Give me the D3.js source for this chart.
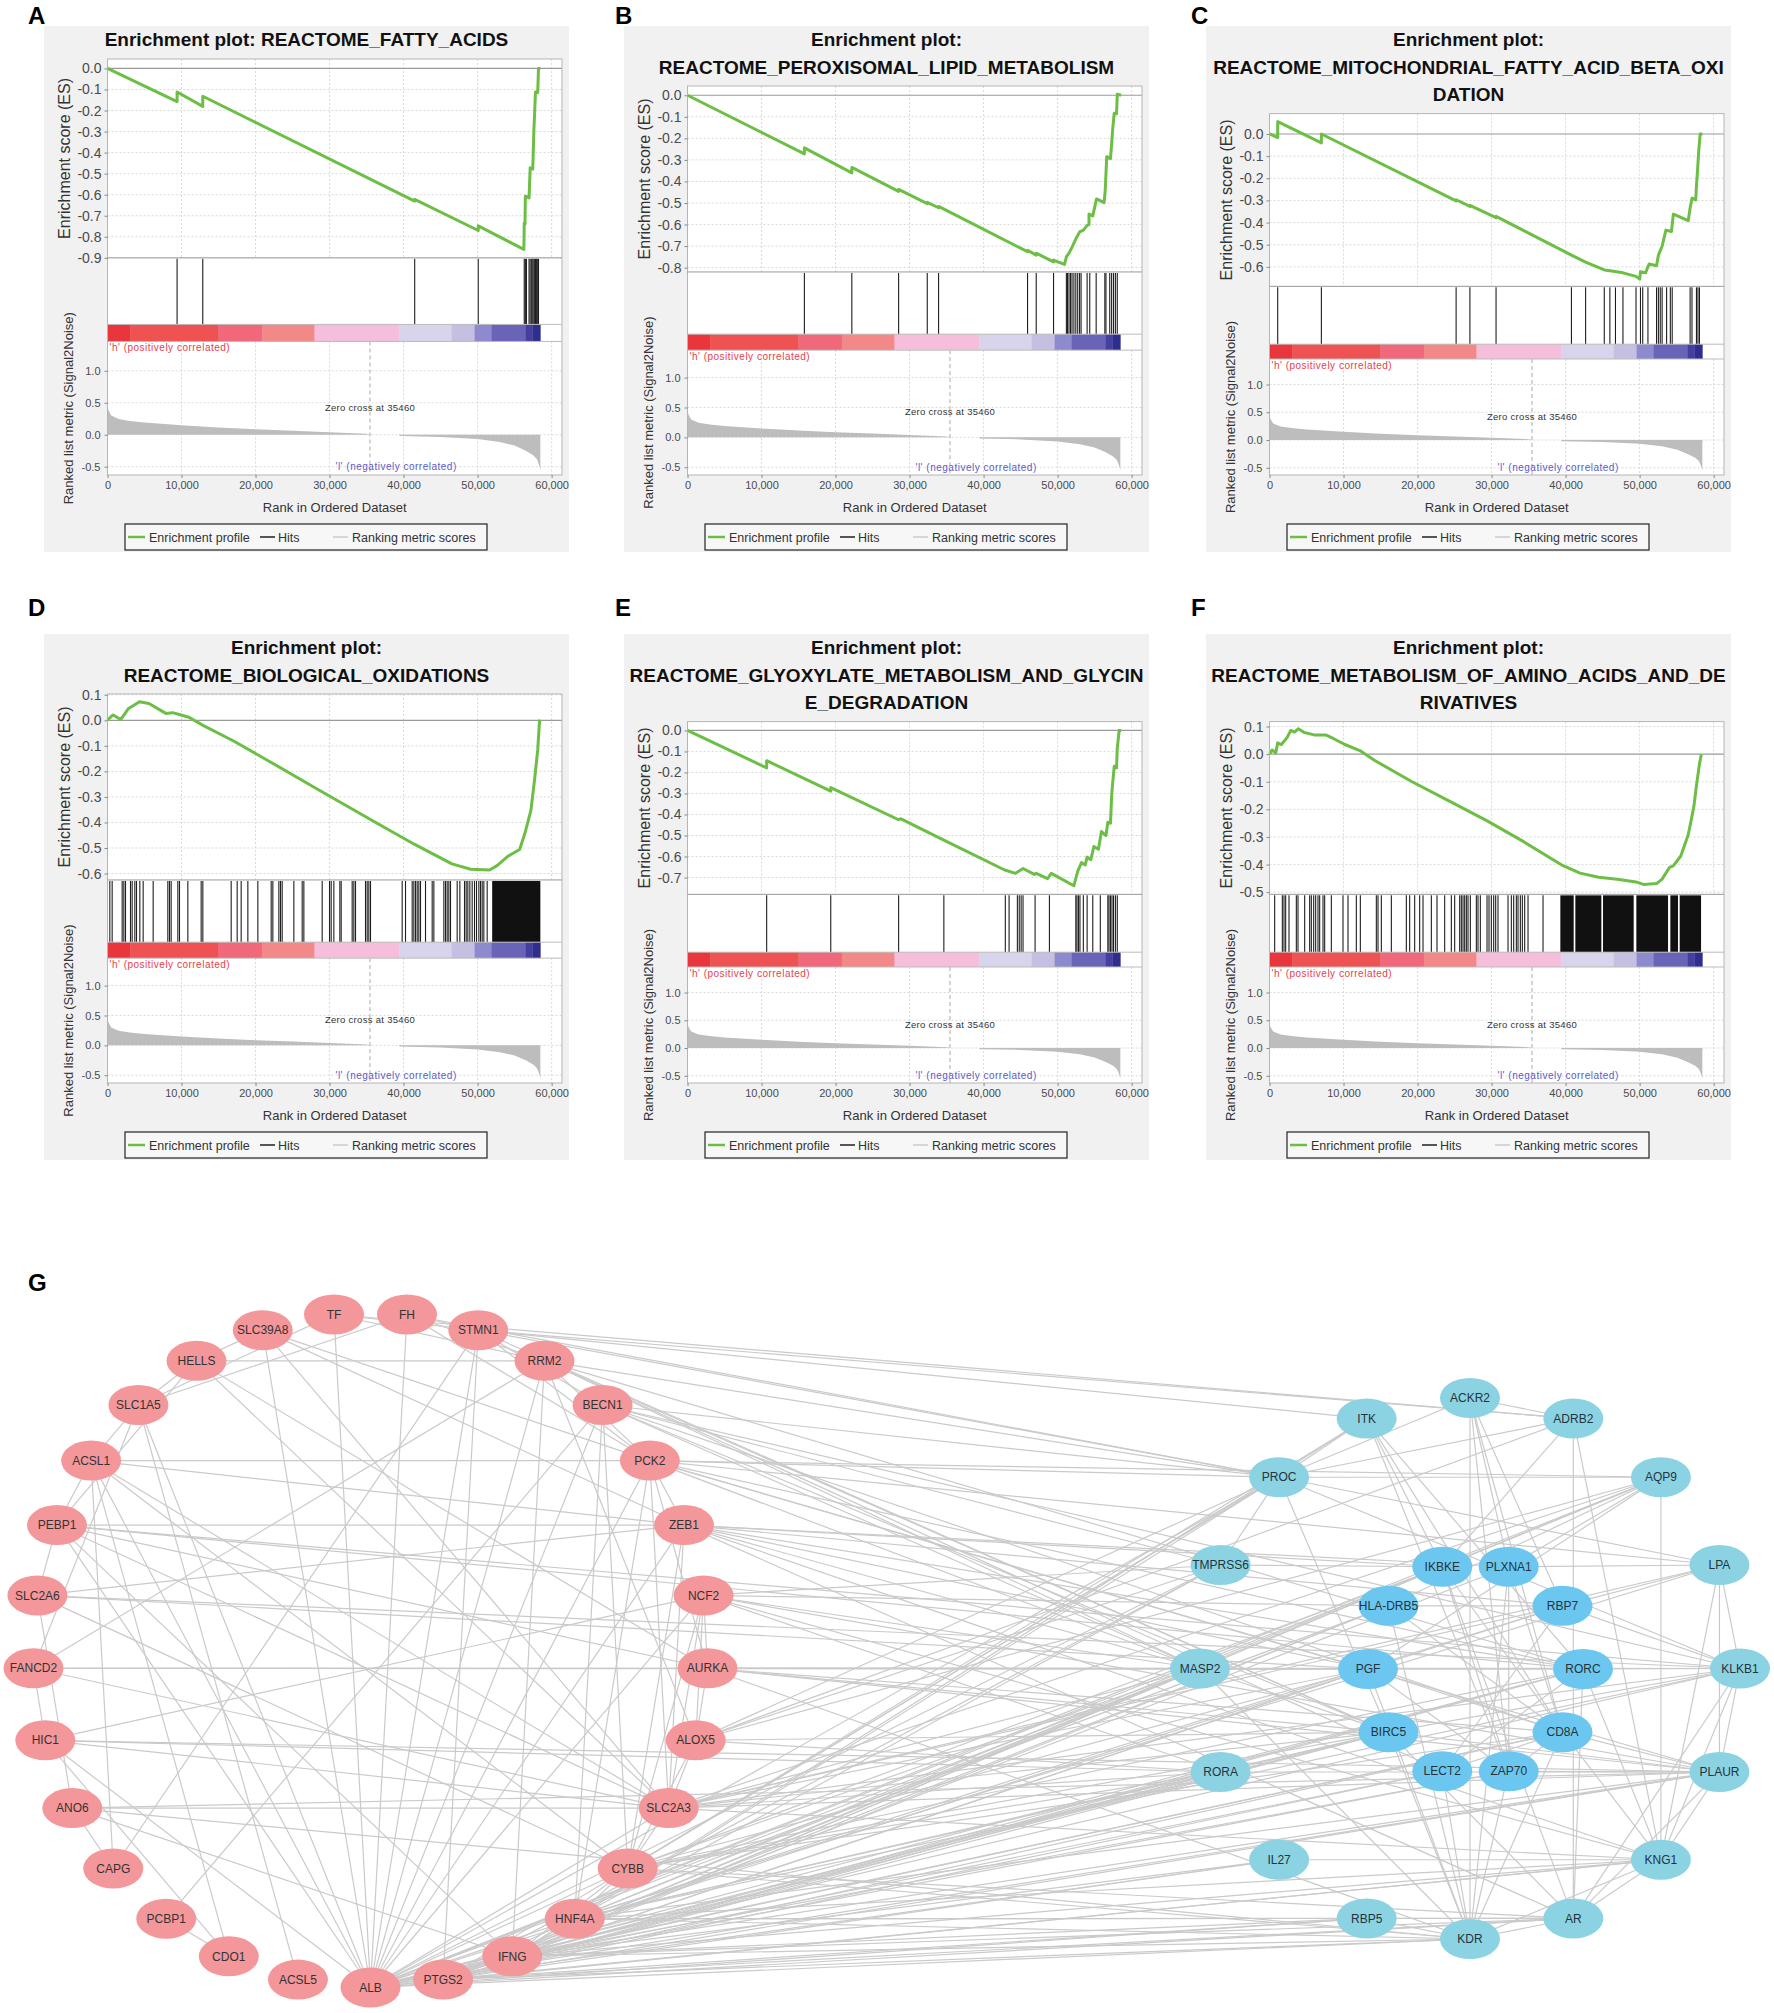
<!DOCTYPE html>
<html>
<head>
<meta charset="utf-8">
<script src="https://cdn.jsdelivr.net/npm/d3@7"></script>
<style>
  body { margin: 0; background: #fff; }
  svg { display: block; }
  text { font-family: "Liberation Sans", Arial, sans-serif; }
</style>
</head>
<body>
<svg id="fig" width="1774" height="2013"></svg>
<script>
// ---------- shared GSEA data ----------
const rankTicks = [0, 10000, 20000, 30000, 40000, 50000, 60000]
const metricTicks = [1.0, 0.5, 0.0, -0.5]
const zeroCross = 35460
// ranked list metric (Signal2Noise), [rank, value]
const metricPoints = [[0,0.56],[100,0.39],[500,0.30],[1500,0.245],[3000,0.216],[5000,0.19],[10000,0.148],
  [15000,0.114],[20000,0.085],[25000,0.063],[30000,0.04],[35000,0.015],[35460,0],[39400,0],[39420,-0.02],
  [45000,-0.034],[50000,-0.068],[53000,-0.114],[55000,-0.17],[56500,-0.25],[57500,-0.32],[58000,-0.38],
  [58300,-0.47],[58475,-0.55]]
const colorBarRank = [0, 3050, 15000, 20850, 27970, 39400, 46500, 49580, 51860, 56440, 57400, 58475]
const colorBarFill = ['#e8363c','#ee5252','#f0687a','#f28888','#f5bfdc','#d8d4ec','#c5bfe2','#8e8ace','#6a64b8','#45409f','#2e2e8e']

// ---------- panel A ----------
const titleA = ['Enrichment plot: REACTOME_FATTY_ACIDS']
const esA = [[0,0],[9400,-0.158],[9400,-0.112],[12870,-0.18],[12870,-0.132],[41500,-0.63],[41500,-0.622],
  [50085,-0.77],[50085,-0.748],[56250,-0.86],[56300,-0.735],[56400,-0.74],[56450,-0.607],[56950,-0.615],
  [57100,-0.472],[57450,-0.478],[57600,-0.295],[57715,-0.2],[57817,-0.112],[58120,-0.115],[58224,0],[58475,0]]
const hitsA = [9400,12870,41500,50085,56300,56450,56600,56950,57100,57300,57450,57600,57715,57817,57970,58120,58224]
const esTicksA = [0,-0.1,-0.2,-0.3,-0.4,-0.5,-0.6,-0.7,-0.8,-0.9]

// ---------- panel B ----------
const titleB = ['Enrichment plot:', 'REACTOME_PEROXISOMAL_LIPID_METABOLISM']
const esB = [[0,0],[15790,-0.272],[15790,-0.244],[22200,-0.36],[22200,-0.335],[28520,-0.446],[28520,-0.437],
  [32390,-0.503],[32390,-0.497],[33920,-0.522],[33920,-0.516],[45940,-0.726],[45940,-0.72],[47110,-0.742],
  [47110,-0.733],[49450,-0.773],[49450,-0.765],[50930,-0.785],[51185,-0.75],[51540,-0.733],[51950,-0.705],
  [52460,-0.667],[52970,-0.634],[53480,-0.626],[53990,-0.604],[54240,-0.6],[54240,-0.551],[54750,-0.56],
  [55260,-0.481],[56280,-0.498],[56430,-0.443],[56635,-0.285],[57143,-0.294],[57296,-0.227],[57450,-0.153],
  [57650,-0.083],[57960,-0.086],[58060,0.005],[58570,0]]
const hitsB = [15790,22200,28520,32390,33920,45940,47110,49450,51185,51337,51541,51745,51949,52203,52458,
  52713,52967,53171,53986,54342,55208,56379,56532,57041,57296,57551,57806,58060]
const esTicksB = [0,-0.1,-0.2,-0.3,-0.4,-0.5,-0.6,-0.7,-0.8]

// ---------- panel C ----------
const titleC = ['Enrichment plot:', 'REACTOME_MITOCHONDRIAL_FATTY_ACID_BETA_OXI', 'DATION']
const esC = [[0,0],[1109,-0.016],[1109,0.056],[7008,-0.04],[7008,0],[25210,-0.302],[25210,-0.297],
  [27075,-0.327],[27075,-0.322],[30605,-0.378],[30605,-0.372],[40790,-0.547],[42705,-0.579],[45230,-0.614],
  [46000,-0.618],[47750,-0.627],[49510,-0.643],[50010,-0.655],[50117,-0.622],[50800,-0.627],[51280,-0.587],
  [52285,-0.595],[52540,-0.547],[53040,-0.507],[53550,-0.434],[54300,-0.44],[54560,-0.362],[56570,-0.391],
  [56820,-0.335],[57075,-0.29],[57580,-0.298],[57680,-0.233],[57830,-0.161],[57980,-0.08],[58180,0],[58490,0]]
const hitsC = [1109,7008,25210,27075,30605,40790,42705,45227,45983,46739,47748,49512,50117,50420,51126,
  52285,52538,52790,53042,53647,54151,54403,56823,57075,57680,57882,58084]
const esTicksC = [0,-0.1,-0.2,-0.3,-0.4,-0.5,-0.6]

// ---------- panel D ----------
const titleD = ['Enrichment plot:', 'REACTOME_BIOLOGICAL_OXIDATIONS']
const esD = [[0,0],[400,0.012],[763,0.021],[1780,0.003],[2797,0.045],[4322,0.073],[5593,0.066],[7880,0.027],
  [8800,0.03],[9916,0.021],[11000,0.012],[12967,-0.021],[17035,-0.081],[22120,-0.165],[28730,-0.276],
  [36360,-0.402],[41440,-0.485],[46530,-0.562],[49070,-0.583],[51610,-0.586],[52630,-0.569],[54155,-0.531],
  [55680,-0.506],[56440,-0.437],[57200,-0.353],[57715,-0.227],[58120,-0.116],[58375,0.003]]
const hitsD = [315,630,1981,2207,2432,3107,3332,3692,3918,4368,4818,6169,8150,8376,8601,9502,9727,10853,
  12654,12879,16708,17518,18059,18960,20311,22112,22337,23148,23373,23598,25174,26300,26525,29002,29993,
  30218,30578,31389,31569,33054,33279,33505,34856,35081,35306,35531,39809,40259,41160,41385,41610,41835,
  42060,42286,42961,43862,44087,45438,45663,45888,46113,46339,47239,47600,48230,48455,48680,48951,49266,
  49581,49851,50166,50392,50617,50842,51292]
const hitBandsD = [[51968, 58475]]
const esTicksD = [0.1,0,-0.1,-0.2,-0.3,-0.4,-0.5,-0.6]

// ---------- panel E ----------
const titleE = ['Enrichment plot:', 'REACTOME_GLYOXYLATE_METABOLISM_AND_GLYCIN', 'E_DEGRADATION']
const esE = [[0,0],[10695,-0.178],[10695,-0.144],[19353,-0.289],[19353,-0.272],[28520,-0.425],[28770,-0.42],
  [34630,-0.522],[42780,-0.663],[44310,-0.68],[45328,-0.657],[46856,-0.685],[47110,-0.68],[48638,-0.705],
  [49147,-0.68],[52200,-0.739],[52712,-0.671],[53222,-0.629],[53731,-0.64],[53986,-0.603],[54495,-0.615],
  [54903,-0.552],[55514,-0.565],[55921,-0.481],[56532,-0.5],[56787,-0.437],[57143,-0.442],[57296,-0.311],
  [57449,-0.246],[57653,-0.17],[57959,-0.178],[58060,-0.085],[58315,0],[58570,0]]
const hitsE = [10695,19353,28520,34632,42934,43443,44564,44818,45073,45328,46957,48893,52458,52611,52815,
  53018,53477,53986,54750,55768,56787,56939,57143,57347,57551,57806,58060]
const esTicksE = [0,-0.1,-0.2,-0.3,-0.4,-0.5,-0.6,-0.7]

// ---------- panel F ----------
const titleF = ['Enrichment plot:', 'REACTOME_METABOLISM_OF_AMINO_ACIDS_AND_DE', 'RIVATIVES']
const esF = [[0,0],[350,0.015],[850,0.005],[1109,0.041],[1613,0.035],[2370,0.06],[2874,0.086],[3380,0.08],
  [3882,0.092],[4638,0.079],[6151,0.069],[7664,0.069],[8672,0.056],[10185,0.035],[12200,0.013],[14220,-0.023],
  [19260,-0.1],[24300,-0.17],[29345,-0.241],[34390,-0.318],[39430,-0.401],[41950,-0.431],[44470,-0.446],
  [46990,-0.453],[49510,-0.463],[50520,-0.472],[52285,-0.469],[53040,-0.453],[54050,-0.41],[54550,-0.405],
  [55560,-0.369],[56570,-0.292],[57330,-0.19],[57680,-0.113],[58085,-0.036],[58340,0]]
const hitsF = [698,1734,1959,2184,2634,3625,3850,4751,5427,5652,5967,6237,6552,6777,7228,7453,8354,9930,
  10605,11731,12272,14433,14658,15109,16460,18486,18936,19612,20287,20738,21864,22629,23665,24565,25016,
  25691,25916,26142,26367,26592,26817,27133,27943,28168,28484,29384,29654,29969,30285,30555,30870,32221,
  32671,32987,33347,33572,33888,34158,34473,34924,36950]
const hitBandsF = [[39291,41093],[41318,44831],[45056,49198],[49559,53838],[54153,55188],[55413,58300]]
const esTicksF = [0.1,0,-0.1,-0.2,-0.3,-0.4,-0.5]

// ---------- network G ----------
const redRing = ['ALB','ACSL5','CDO1','PCBP1','CAPG','ANO6','HIC1','FANCD2','SLC2A6','PEBP1','ACSL1','SLC1A5',
  'HELLS','SLC39A8','TF','FH','STMN1','RRM2','BECN1','PCK2','ZEB1','NCF2','AURKA','ALOX5','SLC2A3','CYBB',
  'HNF4A','IFNG','PTGS2']
const blueOuter = ['ACKR2','ADRB2','AQP9','LPA','KLKB1','PLAUR','KNG1','AR','KDR','RBP5','IL27','RORA','MASP2',
  'TMPRSS6','PROC','ITK']
const blueInner = ['RORC','CD8A','ZAP70','LECT2','BIRC5','PGF','HLA-DRB5','IKBKE','PLXNA1','RBP7']

const redEdges = [['HELLS','RRM2'],['ACSL1','PCK2'],['PEBP1','ZEB1'],['FANCD2','AURKA'],['ANO6','SLC2A3'],
  ['HELLS','SLC39A8'],['HELLS','SLC1A5'],['SLC1A5','ACSL1'],['ACSL1','PEBP1'],['PEBP1','SLC2A6'],['SLC2A6','ANO6'],
  ['CAPG','ANO6'],['PCBP1','CDO1'],['SLC39A8','ALB'],['TF','ALB'],['FH','ALB'],['STMN1','CAPG'],['RRM2','FANCD2'],
  ['HELLS','AURKA'],['SLC39A8','SLC2A3'],['SLC1A5','ALB'],['ACSL1','ALB'],['ACSL1','CYBB'],['PEBP1','ALB'],
  ['HIC1','ALB'],['STMN1','ALB'],['RRM2','ALB'],['BECN1','ALB'],['PCK2','ALB'],['ZEB1','ALB'],['NCF2','ALB'],
  ['SLC2A3','ALB'],['CYBB','ALB'],['HNF4A','ALB'],['IFNG','ALB'],['PTGS2','ALB'],['HIC1','NCF2'],['HIC1','SLC2A3'],
  ['PCBP1','BECN1'],['PEBP1','AURKA'],['TF','RRM2'],['FH','RRM2'],['FH','PCK2'],['STMN1','PCK2'],['STMN1','BECN1'],
  ['RRM2','PCK2'],['BECN1','CYBB'],['BECN1','HNF4A'],['PCK2','HNF4A'],['PCK2','ZEB1'],['PCK2','AURKA'],
  ['PCK2','SLC2A3'],['ZEB1','CYBB'],['ZEB1','SLC2A3'],['NCF2','AURKA'],['NCF2','ALOX5'],['NCF2','CYBB'],
  ['NCF2','SLC2A3'],['AURKA','ALOX5'],['ALOX5','CYBB'],['ALOX5','SLC2A3'],['SLC2A3','CYBB'],['CYBB','HNF4A'],
  ['CYBB','IFNG'],['HNF4A','IFNG'],['HNF4A','PTGS2'],['IFNG','PTGS2'],['HELLS','PEBP1'],['SLC1A5','FANCD2'],
  ['SLC39A8','ZEB1'],['FH','SLC1A5'],['TF','SLC1A5'],['ACSL1','ZEB1'],['PEBP1','SLC2A3'],['SLC2A6','CYBB'],
  ['HIC1','CDO1'],['ANO6','IFNG'],['PEBP1','IFNG'],['CAPG','ACSL1'],['ACSL5','SLC1A5'],['CDO1','ACSL1'],
  ['RRM2','ALOX5'],['STMN1','PTGS2'],['RRM2','IFNG'],['SLC2A6','ZEB1'],['FANCD2','SLC2A3'],['HELLS','SLC2A3'],
  ['SLC39A8','PCK2'],['FH','STMN1'],['TF','STMN1'],['ACSL1','SLC2A3'],['FANCD2','HIC1']]

const crossEdges = [
  ['ALB','PROC'],['ALB','TMPRSS6'],['ALB','MASP2'],['ALB','RORA'],['ALB','IL27'],['ALB','RBP5'],['ALB','KDR'],
  ['ALB','AR'],['ALB','KNG1'],['ALB','PLAUR'],['ALB','BIRC5'],['ALB','PGF'],['ALB','HLA-DRB5'],['ALB','LECT2'],
  ['ALB','ZAP70'],['ALB','CD8A'],['ALB','RORC'],['ALB','IKBKE'],['ALB','KLKB1'],['ALB','AQP9'],
  ['PTGS2','MASP2'],['PTGS2','RORA'],['PTGS2','IL27'],['PTGS2','RBP5'],['PTGS2','KDR'],['PTGS2','AR'],
  ['PTGS2','KNG1'],['PTGS2','PLAUR'],['PTGS2','BIRC5'],['PTGS2','PGF'],['PTGS2','LECT2'],['PTGS2','CD8A'],
  ['PTGS2','RORC'],['PTGS2','IKBKE'],['PTGS2','PLXNA1'],['PTGS2','HLA-DRB5'],['PTGS2','TMPRSS6'],['PTGS2','PROC'],
  ['IFNG','RORA'],['IFNG','IL27'],['IFNG','RBP5'],['IFNG','KDR'],['IFNG','AR'],['IFNG','PLAUR'],['IFNG','BIRC5'],
  ['IFNG','PGF'],['IFNG','ZAP70'],['IFNG','CD8A'],['IFNG','RORC'],['IFNG','IKBKE'],['IFNG','ITK'],
  ['IFNG','HLA-DRB5'],['IFNG','MASP2'],['IFNG','KNG1'],
  ['HNF4A','PROC'],['HNF4A','TMPRSS6'],['HNF4A','MASP2'],['HNF4A','RORA'],['HNF4A','KDR'],['HNF4A','AR'],
  ['HNF4A','PLAUR'],['HNF4A','KLKB1'],['HNF4A','LPA'],['HNF4A','AQP9'],['HNF4A','RBP7'],['HNF4A','BIRC5'],
  ['HNF4A','KNG1'],['HNF4A','RBP5'],
  ['CYBB','RORA'],['CYBB','PGF'],['CYBB','BIRC5'],['CYBB','KDR'],['CYBB','AR'],['CYBB','ITK'],['CYBB','PROC'],
  ['CYBB','MASP2'],['CYBB','RORC'],['CYBB','CD8A'],['CYBB','IKBKE'],
  ['SLC2A3','MASP2'],['SLC2A3','RORA'],['SLC2A3','PGF'],['SLC2A3','BIRC5'],['SLC2A3','KLKB1'],['SLC2A3','PLAUR'],
  ['SLC2A3','KNG1'],['SLC2A3','RBP7'],['SLC2A3','LPA'],['SLC2A3','AQP9'],
  ['ALOX5','PROC'],['ALOX5','TMPRSS6'],['ALOX5','AQP9'],['ALOX5','ADRB2'],['ALOX5','RORA'],['ALOX5','BIRC5'],
  ['AURKA','MASP2'],['AURKA','PGF'],['AURKA','RORC'],['AURKA','BIRC5'],['AURKA','KLKB1'],['AURKA','PLAUR'],
  ['AURKA','KDR'],['AURKA','CD8A'],
  ['NCF2','TMPRSS6'],['NCF2','HLA-DRB5'],['NCF2','RORA'],['NCF2','MASP2'],['NCF2','PLAUR'],['NCF2','KNG1'],
  ['ZEB1','PLXNA1'],['ZEB1','IKBKE'],['ZEB1','RBP7'],['ZEB1','MASP2'],['ZEB1','PGF'],['ZEB1','RORC'],['ZEB1','AR'],
  ['ZEB1','KNG1'],
  ['PCK2','PROC'],['PCK2','MASP2'],['PCK2','RORC'],['PCK2','PGF'],['PCK2','LPA'],['PCK2','AQP9'],['PCK2','PLAUR'],
  ['BECN1','PROC'],['BECN1','TMPRSS6'],['BECN1','MASP2'],['BECN1','BIRC5'],['BECN1','CD8A'],['BECN1','KLKB1'],
  ['RRM2','PROC'],['RRM2','MASP2'],['RRM2','BIRC5'],['RRM2','RORC'],['RRM2','LECT2'],
  ['STMN1','ITK'],['STMN1','ADRB2'],['STMN1','PROC'],['STMN1','BIRC5'],
  ['FH','PROC'],['TF','ADRB2'],
  ['FANCD2','MASP2'],['FANCD2','PGF'],['HIC1','RORA'],['HIC1','PLAUR'],['ANO6','PLAUR'],['ANO6','KDR'],
  ['PEBP1','RORC'],['PEBP1','KLKB1'],['SLC2A6','PGF'],['SLC2A6','KLKB1']]

const blueEdges = [['ACKR2','ADRB2'],['ACKR2','KDR'],['ACKR2','PLXNA1'],['ACKR2','RBP7'],['ACKR2','CD8A'],
  ['ACKR2','ZAP70'],['ACKR2','PROC'],['ITK','PROC'],['ITK','IKBKE'],['ITK','RORC'],['ITK','CD8A'],['ITK','ZAP70'],
  ['ADRB2','AR'],['ADRB2','PROC'],['ADRB2','KNG1'],['ADRB2','IKBKE'],['PROC','LPA'],['PROC','TMPRSS6'],
  ['PROC','BIRC5'],['PROC','KLKB1'],['PROC','AQP9'],['AQP9','IKBKE'],['AQP9','PLXNA1'],['AQP9','PGF'],
  ['AQP9','KNG1'],['AQP9','HLA-DRB5'],['TMPRSS6','IKBKE'],['PLXNA1','LPA'],['PLXNA1','ZAP70'],['PLXNA1','KDR'],
  ['PLXNA1','CD8A'],['IKBKE','CD8A'],['IKBKE','ZAP70'],['IKBKE','AR'],['HLA-DRB5','RBP7'],['HLA-DRB5','CD8A'],
  ['HLA-DRB5','KDR'],['RBP7','LPA'],['RBP7','PGF'],['RBP7','LECT2'],['RBP7','KLKB1'],['LPA','KLKB1'],
  ['LPA','PLAUR'],['LPA','KNG1'],['MASP2','PGF'],['MASP2','BIRC5'],['MASP2','KDR'],['PGF','RORC'],['PGF','ZAP70'],
  ['PGF','KDR'],['PGF','CD8A'],['RORC','KLKB1'],['RORC','LECT2'],['RORC','AR'],['KLKB1','PLAUR'],['KLKB1','KNG1'],
  ['KLKB1','BIRC5'],['KLKB1','AR'],['BIRC5','KDR'],['BIRC5','AR'],['BIRC5','PLAUR'],['CD8A','LECT2'],
  ['CD8A','ZAP70'],['CD8A','PLAUR'],['CD8A','KDR'],['CD8A','KNG1'],['RORA','PLAUR'],['RORA','BIRC5'],
  ['ZAP70','PLAUR'],['LECT2','KDR'],['ZAP70','KDR'],['IL27','KNG1'],['RBP5','KDR'],['RBP5','AR'],['KDR','AR'],
  ['KDR','KNG1'],['AR','KNG1'],['AR','PLAUR'],['KNG1','PLAUR'],['KNG1','RORC']]

// ---------- drawing ----------
const svg = d3.select('#fig')
const panelW = 525, panelH = 526
const plotL = 63.5, plotR = 518, plotBottom = 449
const xMax = 61400

const panels = [
  {x: 44,   y: 26,  title: titleA, es: esA, hits: hitsA, bands: [], dom: [-0.9, 0.045],  ticks: esTicksA},
  {x: 624,  y: 26,  title: titleB, es: esB, hits: hitsB, bands: [], dom: [-0.82, 0.043], ticks: esTicksB},
  {x: 1206, y: 26,  title: titleC, es: esC, hits: hitsC, bands: [], dom: [-0.688, 0.092], ticks: esTicksC},
  {x: 44,   y: 634, title: titleD, es: esD, hits: hitsD, bands: hitBandsD, dom: [-0.625, 0.103], ticks: esTicksD},
  {x: 624,  y: 634, title: titleE, es: esE, hits: hitsE, bands: [], dom: [-0.78, 0.042], ticks: esTicksE},
  {x: 1206, y: 634, title: titleF, es: esF, hits: hitsF, bands: hitBandsF, dom: [-0.508, 0.118], ticks: esTicksF}
]

function styleAxis(g, size) {
  g.select('.domain').remove()
  g.selectAll('.tick line').attr('stroke', '#888')
  g.selectAll('.tick text').attr('fill', '#4a4a4a')
    .style('font-size', size + 'px').style('font-family', '"Liberation Sans", Arial, sans-serif')
}

function drawPanel(p) {
  const g = svg.append('g').attr('transform', `translate(${p.x},${p.y})`)
  g.append('rect').attr('width', panelW).attr('height', panelH).attr('fill', '#f1f1f2')

  const top = [33, 60, 87.6][p.title.length - 1]
  const h = plotBottom - top
  const esBottom = top + h * 0.478
  const hitBottom = esBottom + h * 0.160
  const barBottom = hitBottom + h * 0.041

  p.title.forEach((t, i) => {
    g.append('text').attr('x', panelW / 2).attr('y', 20 + i * 27.5)
      .attr('text-anchor', 'middle').style('font-size', '19px').style('font-weight', 'bold')
      .attr('fill', '#111').text(t)
  })

  const x = d3.scaleLinear().domain([0, xMax]).range([plotL, plotR])
  const yES = d3.scaleLinear().domain(p.dom).range([esBottom, top])
  const yM = d3.scaleLinear().domain([-0.63, 1.46]).range([plotBottom, barBottom])

  g.append('rect').attr('x', plotL).attr('y', top).attr('width', plotR - plotL).attr('height', plotBottom - top)
    .attr('fill', '#fff')

  const grid = g.append('g').attr('stroke', '#d9d9d9').attr('stroke-dasharray', '2,2')
  rankTicks.slice(1).forEach(r => {
    grid.append('line').attr('x1', x(r)).attr('x2', x(r)).attr('y1', top).attr('y2', esBottom)
    grid.append('line').attr('x1', x(r)).attr('x2', x(r)).attr('y1', barBottom).attr('y2', plotBottom)
  })
  p.ticks.forEach(t => {
    if (t === 0) return
    grid.append('line').attr('x1', plotL).attr('x2', plotR).attr('y1', yES(t)).attr('y2', yES(t))
  })
  metricTicks.forEach(t => {
    grid.append('line').attr('x1', plotL).attr('x2', plotR).attr('y1', yM(t)).attr('y2', yM(t))
  })

  g.append('line').attr('x1', plotL).attr('x2', plotR).attr('y1', yES(0)).attr('y2', yES(0))
    .attr('stroke', '#9a9a9a').attr('stroke-width', 1.2)

  // ranked metric
  const area = d3.area().x(d => x(d[0])).y0(yM(0)).y1(d => yM(d[1]))
  g.append('path').datum(metricPoints).attr('d', area).attr('fill', '#bdbdbd')

  g.append('line').attr('x1', x(zeroCross)).attr('x2', x(zeroCross)).attr('y1', barBottom).attr('y2', plotBottom)
    .attr('stroke', '#aaa').attr('stroke-dasharray', '4,3')

  // hits
  g.append('g').selectAll('line').data(p.hits).enter().append('line')
    .attr('x1', d => x(d)).attr('x2', d => x(d)).attr('y1', esBottom + 1).attr('y2', hitBottom)
    .attr('stroke', '#1e1e1e').attr('stroke-width', 1.1)
  g.append('g').selectAll('rect').data(p.bands).enter().append('rect')
    .attr('x', d => x(d[0])).attr('width', d => x(d[1]) - x(d[0]))
    .attr('y', esBottom + 1).attr('height', hitBottom - esBottom - 1).attr('fill', '#111')

  // colour bar
  g.append('g').selectAll('rect').data(colorBarFill).enter().append('rect')
    .attr('x', (d, i) => x(colorBarRank[i])).attr('width', (d, i) => x(colorBarRank[i + 1]) - x(colorBarRank[i]) + 0.3)
    .attr('y', hitBottom).attr('height', barBottom - hitBottom).attr('fill', d => d)

  // enrichment profile
  const line = d3.line().x(d => x(d[0])).y(d => yES(d[1]))
  g.append('path').datum(p.es).attr('d', line).attr('fill', 'none')
    .attr('stroke', '#6cbe45').attr('stroke-width', 3).attr('stroke-linejoin', 'round')

  // frames
  const frame = g.append('g').attr('stroke', '#b5b5b5').attr('fill', 'none')
  frame.append('rect').attr('x', plotL).attr('y', top).attr('width', plotR - plotL).attr('height', plotBottom - top)
  ;[esBottom, hitBottom, barBottom].forEach((yy, i) => {
    frame.append('line').attr('x1', plotL).attr('x2', plotR).attr('y1', yy).attr('y2', yy)
      .attr('stroke', i === 0 ? '#999' : '#bbb')
  })

  // axes
  const ax1 = g.append('g').attr('transform', `translate(${plotL},0)`)
    .call(d3.axisLeft(yES).tickValues(p.ticks).tickFormat(d => d.toFixed(1)).tickSize(3).tickPadding(3))
  styleAxis(ax1, 14)
  const ax2 = g.append('g').attr('transform', `translate(${plotL},0)`)
    .call(d3.axisLeft(yM).tickValues(metricTicks).tickFormat(d => d.toFixed(1)).tickSize(3).tickPadding(4))
  styleAxis(ax2, 11)
  const ax3 = g.append('g').attr('transform', `translate(0,${plotBottom})`)
    .call(d3.axisBottom(x).tickValues(rankTicks).tickFormat(d3.format(',')).tickSize(3).tickPadding(3))
  styleAxis(ax3, 11)

  // labels
  g.append('text').attr('transform', `translate(20,${(top + esBottom) / 2}) rotate(-90)`)
    .attr('text-anchor', 'middle').attr('dy', '0.35em').style('font-size', '16px').attr('fill', '#333')
    .text('Enrichment score (ES)')
  g.append('text').attr('transform', `translate(24,${(barBottom + plotBottom) / 2}) rotate(-90)`)
    .attr('text-anchor', 'middle').attr('dy', '0.35em').style('font-size', '13px').attr('fill', '#333')
    .text('Ranked list metric (Signal2Noise)')
  g.append('text').attr('x', (plotL + plotR) / 2).attr('y', 486).attr('text-anchor', 'middle')
    .style('font-size', '13px').attr('fill', '#333').text('Rank in Ordered Dataset')

  g.append('text').attr('x', plotL + 2).attr('y', barBottom + 10).style('font-size', '10px')
    .style('letter-spacing', '0.5px').attr('fill', '#e8404a').text("'h' (positively correlated)")
  g.append('text').attr('x', x(30800)).attr('y', yM(-0.5) + 3.5).style('font-size', '10px')
    .style('letter-spacing', '0.5px').attr('fill', '#5a5acc').text("'l' (negatively correlated)")
  g.append('text').attr('x', x(zeroCross)).attr('y', yM(0.42) + 3).attr('text-anchor', 'middle')
    .style('font-size', '9.5px').style('letter-spacing', '0.3px').attr('fill', '#333').text('Zero cross at ' + zeroCross)

  // legend
  const lg = g.append('g')
  lg.append('rect').attr('x', 81).attr('y', 498).attr('width', 362).attr('height', 26)
    .attr('fill', '#f7f7f8').attr('stroke', '#222').attr('stroke-width', 1.2)
  lg.append('line').attr('x1', 84).attr('x2', 101).attr('y1', 511).attr('y2', 511).attr('stroke', '#6cbe45').attr('stroke-width', 2.5)
  lg.append('text').attr('x', 105).attr('y', 515.5).style('font-size', '12.5px').attr('fill', '#333').text('Enrichment profile')
  lg.append('line').attr('x1', 216).attr('x2', 231).attr('y1', 511).attr('y2', 511).attr('stroke', '#555').attr('stroke-width', 2)
  lg.append('text').attr('x', 234).attr('y', 515.5).style('font-size', '12.5px').attr('fill', '#333').text('Hits')
  lg.append('line').attr('x1', 289).attr('x2', 304).attr('y1', 511).attr('y2', 511).attr('stroke', '#d6d6d6').attr('stroke-width', 2)
  lg.append('text').attr('x', 308).attr('y', 515.5).style('font-size', '12.5px').attr('fill', '#333').text('Ranking metric scores')
}

panels.forEach(drawPanel)

// panel letters
const letters = [['A', 28, 24], ['B', 615, 24], ['C', 1191, 24], ['D', 28, 616], ['E', 615, 616], ['F', 1191, 616], ['G', 28, 1291]]
svg.selectAll('.letter').data(letters).enter().append('text').attr('class', 'letter')
  .attr('x', d => d[1]).attr('y', d => d[2])
  .style('font-size', '24px').style('font-weight', 'bold').attr('fill', '#000').text(d => d[0])

// network layout: three rings, angles through linear scales
const net = svg.append('g')
const pos = {}
const redAngle = d3.scaleLinear().domain([0, redRing.length]).range([Math.PI / 2, Math.PI / 2 + 2 * Math.PI])
redRing.forEach((n, i) => { pos[n] = {x: 370.5 + 337.5 * Math.cos(redAngle(i)), y: 1650 + 337.5 * Math.sin(redAngle(i)), c: '#f4979a'} })
const outerAngle = d3.scaleLinear().domain([0, blueOuter.length]).range([-Math.PI / 2, 1.5 * Math.PI])
blueOuter.forEach((n, i) => { pos[n] = {x: 1470 + 270 * Math.cos(outerAngle(i)), y: 1668.5 + 270.5 * Math.sin(outerAngle(i)), c: '#8bd3e3'} })
const innerAngle = d3.scaleLinear().domain([0, blueInner.length]).range([0, 2 * Math.PI])
blueInner.forEach((n, i) => { pos[n] = {x: 1475.5 + 107.5 * Math.cos(innerAngle(i)), y: 1669 + 107.5 * Math.sin(innerAngle(i)), c: '#6cc7f0'} })

const edges = redEdges.concat(crossEdges, blueEdges)
net.append('g').selectAll('line').data(edges).enter().append('line')
  .attr('x1', d => pos[d[0]].x).attr('y1', d => pos[d[0]].y)
  .attr('x2', d => pos[d[1]].x).attr('y2', d => pos[d[1]].y)
  .attr('stroke', '#cacaca').attr('stroke-width', 1.2)

const nodeNames = redRing.concat(blueOuter, blueInner)
const nodes = net.append('g').selectAll('g').data(nodeNames).enter().append('g')
  .attr('transform', d => `translate(${pos[d].x},${pos[d].y})`)
nodes.append('ellipse').attr('rx', 30).attr('ry', 20).attr('fill', d => pos[d].c)
nodes.append('text').attr('text-anchor', 'middle').attr('dy', '0.35em').style('font-size', '12px')
  .attr('fill', d => redRing.includes(d) ? '#333' : '#24343c').text(d => d)
</script>
</body>
</html>
